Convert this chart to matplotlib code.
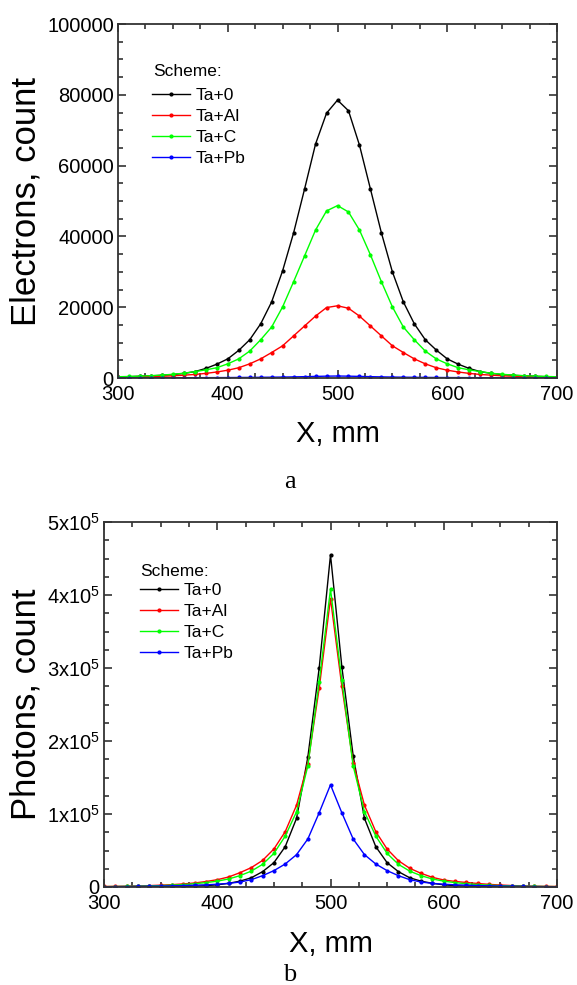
import matplotlib
matplotlib.use('Agg')
import matplotlib.pyplot as plt
from matplotlib.ticker import MultipleLocator, FixedLocator, FixedFormatter

plt.rcParams['font.family'] = ['Liberation Sans', 'DejaVu Sans']
plt.rcParams['mathtext.fontset'] = 'custom'
plt.rcParams['mathtext.rm'] = 'Liberation Sans'

# X, mm
x_mm = list(range(300, 701, 10))
schemes = ['Ta+0', 'Ta+Al', 'Ta+C', 'Ta+Pb']
colors = ['#000000', '#ff0000', '#00ff00', '#0000ff']

# (a) electrons
el_ta0 = [300, 380, 480, 600, 760, 980, 1300, 1800, 2700, 3900, 5400, 7800, 10800, 15300, 21500,
          30300, 41000, 53400, 66100, 74800, 78500, 75500, 65800, 53400, 41000, 30000, 21500, 15300,
          10800, 7900, 5400, 3900, 2700, 1800, 1300, 980, 760, 600, 480, 380, 300]
el_taal = [200, 250, 310, 390, 490, 620, 800, 1000, 1300, 1700, 2200, 2900, 4000, 5400, 7200,
           9100, 11900, 14700, 17500, 19900, 20400, 19700, 17500, 14700, 11900, 9100, 7200, 5400,
           4000, 2900, 2200, 1700, 1300, 1000, 800, 620, 490, 390, 310, 250, 200]
el_tac = [350, 430, 530, 660, 820, 1050, 1350, 1800, 2300, 2900, 4000, 5400, 7600, 10800, 14400,
          20100, 27200, 34500, 41800, 47200, 48700, 46900, 41800, 34800, 27200, 20100, 14400, 10800,
          7600, 5400, 4000, 2900, 2300, 1800, 1350, 1050, 820, 660, 530, 430, 350]
el_tapb = [40, 45, 50, 55, 60, 70, 80, 90, 100, 115, 130, 150, 170, 200, 230, 270, 320, 380, 450,
           520, 560, 520, 450, 380, 320, 270, 230, 200, 170, 150, 130, 115, 100, 90, 80, 70, 60,
           55, 50, 45, 40]

# (b) photons
ph_ta0 = [100, 130, 170, 220, 300, 400, 550, 750, 1100, 1800, 3000, 5000, 8000, 12600, 21000,
          33300, 55200, 94000, 178000, 300000, 455000, 302000, 180000, 94000, 55200, 33300, 21000,
          12600, 8000, 5000, 3000, 1800, 1100, 750, 550, 400, 300, 220, 170, 130, 100]
ph_taal = [700, 900, 1100, 1500, 1900, 2500, 3200, 4200, 5500, 7500, 10000, 13700, 19600, 26500,
           36400, 52000, 75800, 112000, 169000, 272000, 395000, 275000, 170000, 112000, 75800,
           52000, 36000, 25600, 18700, 13200, 9600, 7600, 6200, 4800, 3600, 2700, 2000, 1500,
           1100, 900, 700]
ph_tac = [500, 650, 850, 1100, 1450, 1900, 2500, 3300, 4500, 6000, 8000, 11000, 15500, 21700,
          31000, 46000, 69700, 103000, 166000, 281000, 408000, 283000, 166000, 103000, 69700, 46000,
          31000, 21700, 15500, 11000, 8000, 6000, 4500, 3300, 2500, 1900, 1450, 1100, 850, 650, 500]
ph_tapb = [400, 500, 650, 800, 1000, 1300, 1600, 2000, 2500, 3000, 3800, 5000, 6800, 10000, 15500,
           22400, 31500, 44300, 65800, 101700, 140000, 101700, 65800, 44300, 31500, 22400, 15500,
           10000, 6800, 5000, 3800, 3000, 2500, 2000, 1600, 1300, 1000, 800, 650, 500, 400]

ph_ticks = [0, 100000, 200000, 300000, 400000, 500000]
ph_labels = ['0', r'1x$\mathregular{10^{5}}$', r'2x$\mathregular{10^{5}}$',
             r'3x$\mathregular{10^{5}}$', r'4x$\mathregular{10^{5}}$', r'5x$\mathregular{10^{5}}$']

fig = plt.figure(figsize=(5.77, 9.85), dpi=100)
ax1 = fig.add_axes([118 / 577, 1 - 378 / 985, 439 / 577, 354 / 985])
ax2 = fig.add_axes([104 / 577, 1 - 887 / 985, 453 / 577, 365 / 985])


def style_axes(ax):
    for s in ax.spines.values():
        s.set_linewidth(1.3)
        s.set_color('#333333')
    ax.tick_params(which='both', direction='in', top=True, right=True, labelsize=14.5,
                   color='#333333', width=1.2)
    ax.tick_params(which='major', length=6, pad=3)
    ax.tick_params(axis='x', which='major', pad=5)
    ax.tick_params(which='minor', length=3.5)
    ax.set_xlim(300, 700)
    ax.xaxis.set_major_locator(MultipleLocator(100))
    ax.xaxis.set_minor_locator(MultipleLocator(25))


for ax, data in ((ax1, [el_ta0, el_taal, el_tac, el_tapb]),
                 (ax2, [ph_ta0, ph_taal, ph_tac, ph_tapb])):
    for ys, lab, c in zip(data, schemes, colors):
        ax.plot(x_mm, ys, color=c, lw=1.0, marker='o', markersize=2.0, label=lab)
    style_axes(ax)

ax1.set_ylim(0, 100000)
ax1.yaxis.set_major_locator(MultipleLocator(20000))
ax1.yaxis.set_minor_locator(MultipleLocator(5000))
ax1.set_ylabel('Electrons, count', fontsize=25)
ax1.yaxis.set_label_coords(-0.173, 0.5)
ax1.set_xlabel('X, mm', fontsize=21)
ax1.xaxis.set_label_coords(0.5, -0.118)

ax2.set_ylim(0, 500000)
ax2.yaxis.set_major_locator(FixedLocator(ph_ticks))
ax2.yaxis.set_major_formatter(FixedFormatter(ph_labels))
ax2.yaxis.set_minor_locator(MultipleLocator(25000))
ax2.set_ylabel('Photons, count', fontsize=25)
ax2.yaxis.set_label_coords(-0.136, 0.5)
ax2.set_xlabel('X, mm', fontsize=21)
ax2.xaxis.set_label_coords(0.5, -0.118)

# legends: title drawn as a separate text so its gap can match
leg_kw = dict(frameon=False, loc='upper left', fontsize=12.5, handlelength=2.2,
              handletextpad=0.3, labelspacing=0.33, borderpad=0, borderaxespad=0,
              bbox_transform=fig.transFigure)
ax1.legend(bbox_to_anchor=(152 / 577, 1 - 88 / 985), **leg_kw)
ax2.legend(bbox_to_anchor=(140 / 577, 1 - 583 / 985), **leg_kw)
fig.text(153 / 577, 1 - 72 / 985, 'Scheme:', fontsize=12.5, ha='left', va='center')
fig.text(140 / 577, 1 - 572 / 985, 'Scheme:', fontsize=12.5, ha='left', va='center')

fig.text(290 / 577, 1 - 482 / 985, 'a', family=['Liberation Serif', 'DejaVu Serif'],
         fontsize=19, ha='center', va='center')
fig.text(290 / 577, 1 - 975 / 985, 'b', family=['Liberation Serif', 'DejaVu Serif'],
         fontsize=19, ha='center', va='center')

fig.savefig('out.png', dpi=100)
